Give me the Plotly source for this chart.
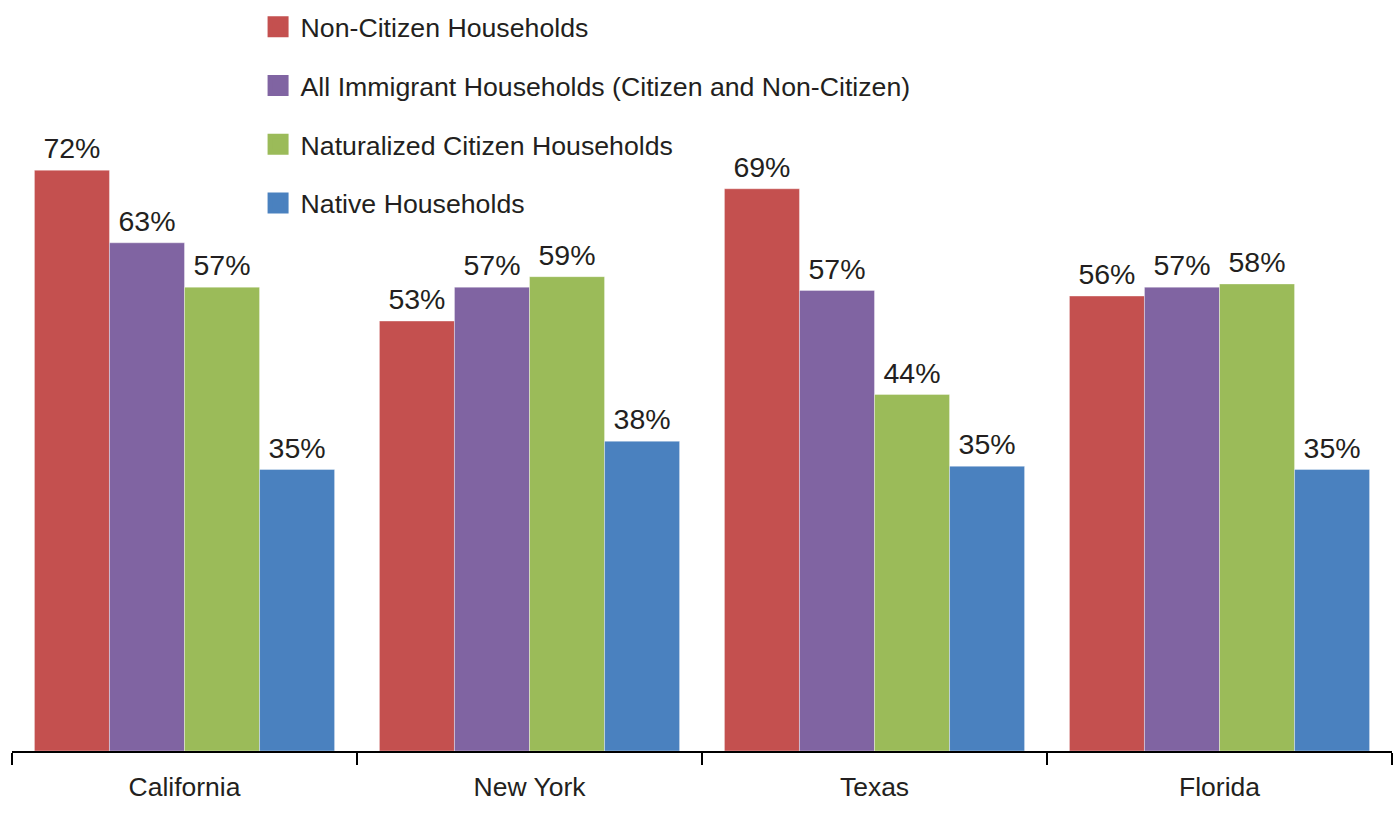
import plotly.graph_objects as go

states = ["California", "New York", "Texas", "Florida"]
series_names = [
    "Non-Citizen Households",
    "All Immigrant Households (Citizen and Non-Citizen)",
    "Naturalized Citizen Households",
    "Native Households",
]
non_citizen = [72.0, 53.3, 69.7, 56.4]
all_immigrant = [63.0, 57.5, 57.1, 57.5]
naturalized = [57.5, 58.8, 44.2, 57.9]
native = [34.9, 38.4, 35.3, 34.9]
labels_non_citizen = ["72%", "53%", "69%", "56%"]
labels_all_immigrant = ["63%", "57%", "57%", "57%"]
labels_naturalized = ["57%", "59%", "44%", "58%"]
labels_native = ["35%", "38%", "35%", "35%"]

colors = ["#C4504F", "#8064A2", "#9BBB59", "#4A81BF"]
values = [non_citizen, all_immigrant, naturalized, native]
labels = [labels_non_citizen, labels_all_immigrant, labels_naturalized, labels_native]

FONT = "Liberation Sans, Arial, Helvetica, sans-serif"
TXT = "#231F20"

fig = go.Figure()
for i, (name, vals, col) in enumerate(zip(series_names, values, colors)):
    fig.add_trace(go.Bar(
        x=states, y=vals, offsetgroup=str(i),
        marker=dict(color=col, line=dict(width=0.6, color="rgba(255,255,255,0.6)")),
        showlegend=False, name=name, hoverinfo="skip",
    ))
# value labels, grouped the same way as the bars
for i, (name, vals, labs) in enumerate(zip(series_names, values, labels)):
    fig.add_trace(go.Scatter(
        x=states, y=vals, text=labs, mode="markers+text", offsetgroup=str(i),
        textposition="top center",
        textfont=dict(size=28.5, color=TXT, family=FONT),
        marker=dict(size=6, opacity=0),
        cliponaxis=False, showlegend=False, hoverinfo="skip",
    ))
# legend entries
for i, (name, col) in enumerate(zip(series_names, colors)):
    fig.add_trace(go.Scatter(
        x=[None], y=[None], mode="markers", name=name,
        marker=dict(symbol="square", size=16, color=col, line=dict(width=5, color=col)),
        legendgroup=f"g{i}", showlegend=True,
    ))

fig.update_layout(
    width=1395, height=822,
    margin=dict(l=12, r=3, t=0, b=71),
    paper_bgcolor="white", plot_bgcolor="white",
    barmode="group", bargap=0.13, bargroupgap=0,
    scattermode="group", scattergap=0.13,
    font=dict(family=FONT, color=TXT),
    legend=dict(
        x=0.1765, y=0.996, xanchor="left", yanchor="top",
        font=dict(size=26.7, color=TXT, family=FONT),
        tracegroupgap=21, itemsizing="trace", itemwidth=35,
        bgcolor="rgba(0,0,0,0)",
    ),
    xaxis=dict(
        type="category", range=[-0.5, 3.5],
        showline=True, linewidth=2, linecolor="black",
        ticks="outside", tickson="boundaries", ticklen=12, tickwidth=2, tickcolor="black",
        ticklabelstandoff=11,
        tickfont=dict(size=26.5, color=TXT, family=FONT),
        showgrid=False, zeroline=False,
    ),
    yaxis=dict(
        range=[0, 93.1], visible=False, showgrid=False, zeroline=False,
    ),
)

fig.write_html("out.html")
